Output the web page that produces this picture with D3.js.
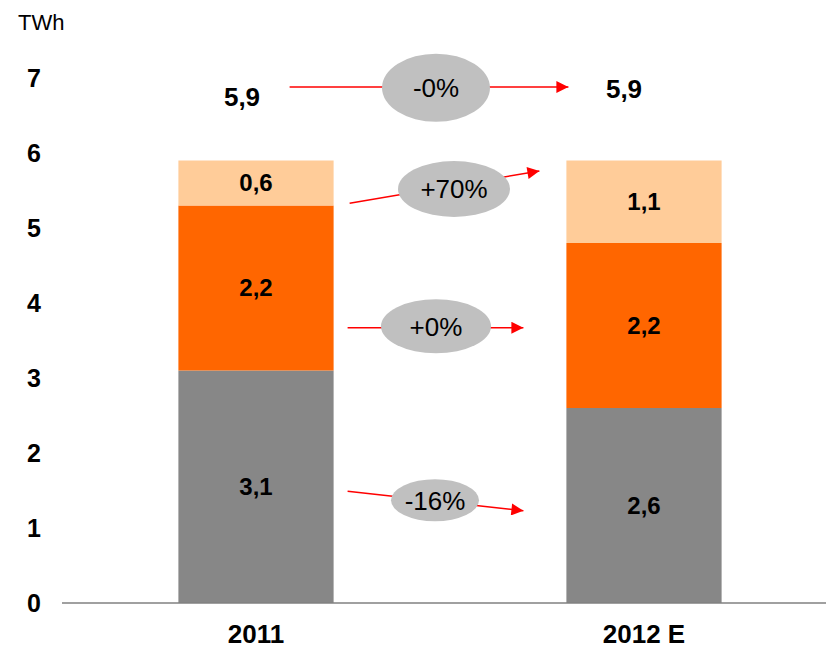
<!DOCTYPE html>
<html>
<head>
<meta charset="utf-8">
<script src="https://cdn.jsdelivr.net/npm/d3@7"></script>
<style>
  body { margin: 0; background: #fff; }
  text { font-family: "Liberation Sans", Arial, sans-serif; }
</style>
</head>
<body>
<div id="chart"></div>
<script>
var categories = ["2011", "2012 E"];
var seriesNames = ["base", "mid", "top"];
var baseValues = [3.1, 2.6];
var midValues = [2.2, 2.2];
var topValues = [0.6, 1.1];
var totals = [5.9, 5.9];
var totalAt = [6.75, 6.85];
var yTicks = [0, 1, 2, 3, 4, 5, 6, 7];
var colors = ["#878787", "#ff6600", "#ffcc99"];

// change bubbles: label, arrow start value, arrow end value, bubble value
var changeLabels = ["-0%", "+70%", "+0%", "-16%"];
var changeFrom = [6.88, 5.33, 3.67, 1.49];
var changeTo = [6.88, 5.76, 3.67, 1.23];
var bubbleAt = [6.87, 5.52, 3.69, 1.37];

function init() {
  var w = 826, h = 649;
  var svg = d3.select("#chart").append("svg")
    .attr("width", w)
    .attr("height", h);

  var x = d3.scaleBand()
    .domain(categories)
    .range([62, 838])
    .paddingInner(0.6)
    .paddingOuter(0.3);

  var y = d3.scaleLinear()
    .domain([0, 7])
    .range([603, 78]);

  var rows = categories.map(function(c, i) {
    return { cat: c, base: baseValues[i], mid: midValues[i], top: topValues[i] };
  });
  var stack = d3.stack().keys(seriesNames)(rows);

  svg.selectAll("g.layer")
    .data(stack)
    .enter().append("g")
    .attr("class", "layer")
    .attr("fill", function(d, i) { return colors[i]; })
    .selectAll("rect")
    .data(function(d) { return d; })
    .enter().append("rect")
    .attr("x", function(d) { return x(d.data.cat); })
    .attr("y", function(d) { return y(d[1]); })
    .attr("width", x.bandwidth())
    .attr("height", function(d) { return y(d[0]) - y(d[1]); });

  // segment labels
  stack.forEach(function(layer) {
    layer.forEach(function(d) {
      var v = d[1] - d[0];
      svg.append("text")
        .attr("x", x(d.data.cat) + x.bandwidth() / 2)
        .attr("y", y((d[0] + d[1]) / 2))
        .attr("dy", "0.35em")
        .attr("text-anchor", "middle")
        .attr("font-size", 24)
        .attr("font-weight", "bold")
        .text(v.toFixed(1).replace(".", ","));
    });
  });

  // totals
  categories.forEach(function(c, i) {
    svg.append("text")
      .attr("x", x(c) + x.bandwidth() / 2 - (i === 0 ? 14 : 20))
      .attr("y", y(totalAt[i]))
      .attr("dy", "0.35em")
      .attr("text-anchor", "middle")
      .attr("font-size", 26)
      .attr("font-weight", "bold")
      .text(totals[i].toFixed(1).replace(".", ","));
  });

  // axis line
  svg.append("line")
    .attr("x1", 62).attr("x2", w)
    .attr("y1", y(0)).attr("y2", y(0))
    .attr("stroke", "#808080")
    .attr("stroke-width", 1.5);

  // y tick labels
  svg.selectAll("text.ytick")
    .data(yTicks)
    .enter().append("text")
    .attr("class", "ytick")
    .attr("x", 34)
    .attr("y", function(d) { return y(d); })
    .attr("dy", "0.36em")
    .attr("text-anchor", "middle")
    .attr("font-size", 25)
    .attr("font-weight", "bold")
    .text(function(d) { return d; });

  svg.append("text")
    .attr("x", 18).attr("y", 30)
    .attr("font-size", 22)
    .text("TWh");

  // category labels
  svg.selectAll("text.cat")
    .data(categories)
    .enter().append("text")
    .attr("class", "cat")
    .attr("x", function(d) { return x(d) + x.bandwidth() / 2; })
    .attr("y", 643)
    .attr("text-anchor", "middle")
    .attr("font-size", 26)
    .attr("font-weight", "bold")
    .text(function(d) { return d; });

  // arrows + bubbles
  svg.append("defs").append("marker")
    .attr("id", "arrow")
    .attr("viewBox", "0 0 10 10")
    .attr("refX", 10).attr("refY", 5)
    .attr("markerWidth", 14).attr("markerHeight", 12)
    .attr("markerUnits", "userSpaceOnUse")
    .attr("orient", "auto")
    .append("path")
    .attr("d", "M0,0 L10,5 L0,10 z")
    .attr("fill", "#ff0000");

  var x0 = x(categories[0]) + x.bandwidth() + 14;
  var x1 = x(categories[1]) - 27;
  var xMid = (x(categories[0]) + x.bandwidth() + x(categories[1])) / 2;
  var bubbleRx = [54, 56, 55, 44];
  var bubbleRy = [34, 28, 27, 21];
  var startX = [x0 - 58, x0 + 2, x0, x0];

  changeLabels.forEach(function(lbl, i) {
    svg.append("line")
      .attr("x1", startX[i])
      .attr("y1", y(changeFrom[i]))
      .attr("x2", x1 + (i === 0 ? 29 : i === 1 ? 0 : -16))
      .attr("y2", y(changeTo[i]))
      .attr("stroke", "#ff0000")
      .attr("stroke-width", 1.5)
      .attr("marker-end", "url(#arrow)");

    var cx = xMid + [-14, 4, -14, -15][i];
    svg.append("ellipse")
      .attr("cx", cx)
      .attr("cy", y(bubbleAt[i]))
      .attr("rx", bubbleRx[i])
      .attr("ry", bubbleRy[i])
      .attr("fill", "#c0c0c0");

    svg.append("text")
      .attr("x", cx)
      .attr("y", y(bubbleAt[i]))
      .attr("dy", "0.36em")
      .attr("text-anchor", "middle")
      .attr("font-size", 26)
      .text(lbl);
  });
}

window.onload = init;
</script>
</body>
</html>
